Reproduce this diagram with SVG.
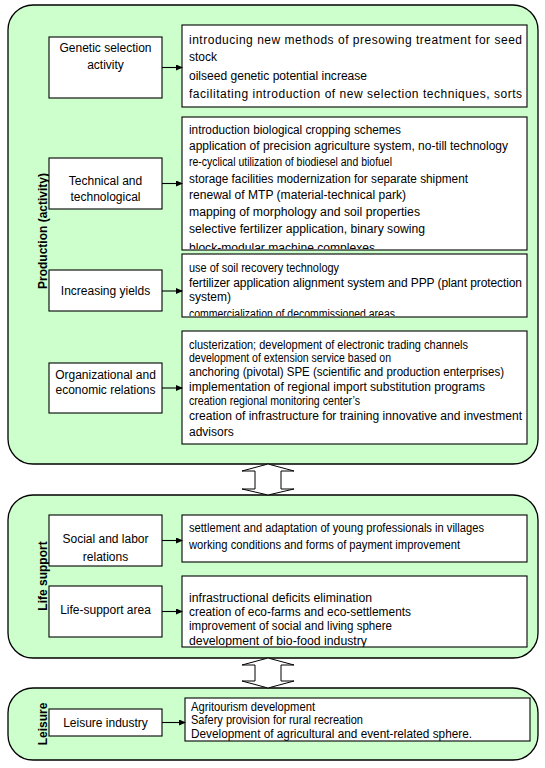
<svg xmlns="http://www.w3.org/2000/svg" width="545" height="768" viewBox="0 0 545 768">
<style>
.panel{fill:#ccffcc;stroke:#000;stroke-width:1.3}
.box{fill:#fff;stroke:#000;stroke-width:1.1}
.lbl{font-family:"Liberation Sans",Arial,sans-serif;font-size:12px;fill:#000;text-anchor:middle}
.t{font-family:"Liberation Sans",Arial,sans-serif;font-size:12px;fill:#000}
.side{font-family:"Liberation Sans",Arial,sans-serif;font-size:12px;font-weight:bold;fill:#000;text-anchor:middle}
.con{stroke:#000;stroke-width:1.1;fill:none}
.dbl{fill:#fff;stroke:#000;stroke-width:1}
</style>
<defs>
<marker id="ah" markerWidth="7" markerHeight="6" refX="6" refY="3" orient="auto" markerUnits="userSpaceOnUse">
<path d="M0,0 L7,3 L0,6 Z" fill="#000"/>
</marker>
<clipPath id="c2"><rect x="182" y="117" width="345" height="132"/></clipPath>
<clipPath id="c3"><rect x="182" y="254" width="345" height="62"/></clipPath>
<clipPath id="c6"><rect x="182" y="576" width="345" height="71"/></clipPath>
<clipPath id="c7"><rect x="185" y="698" width="345" height="43"/></clipPath>
</defs>

<g id="panel-production">
<rect class="panel" x="8" y="5" width="530" height="459" rx="25" ry="25"/>
<text class="side" transform="translate(46.5,231) rotate(-90)">Production (activity)</text>
</g>
<g id="panel-life">
<rect class="panel" x="8" y="495" width="530" height="163" rx="25" ry="25"/>
<text class="side" transform="translate(46.5,576) rotate(-90)">Life support</text>
</g>
<g id="panel-leisure">
<rect class="panel" x="8" y="688" width="530" height="72" rx="25" ry="25"/>
<text class="side" transform="translate(46.5,724) rotate(-90)">Leisure</text>
</g>

<g id="n-genetic">
<rect class="box" x="49" y="37" width="113" height="61"/>
<text class="lbl" x="105.5" y="52">Genetic selection</text>
<text class="lbl" x="105.5" y="69">activity</text>
</g>
<g id="d-genetic">
<rect class="box" x="182" y="25" width="345" height="82"/>
<text class="t" x="189" y="44" textLength="333" lengthAdjust="spacing">introducing new methods of presowing treatment for seed</text>
<text class="t" x="189" y="61">stock</text>
<text class="t" x="189" y="80" textLength="178" lengthAdjust="spacingAndGlyphs">oilseed genetic potential  increase</text>
<text class="t" x="189" y="98" textLength="333" lengthAdjust="spacing">facilitating  introduction of new selection techniques, sorts</text>
</g>

<g id="n-technical">
<rect class="box" x="49" y="158" width="113" height="51"/>
<text class="lbl" x="105.5" y="185">Technical and</text>
<text class="lbl" x="105.5" y="201">technological</text>
</g>
<g id="d-technical">
<rect class="box" x="182" y="117" width="345" height="133"/>
<g clip-path="url(#c2)">
<text class="t" x="189" y="134" textLength="212" lengthAdjust="spacingAndGlyphs">introduction biological cropping schemes</text>
<text class="t" x="189" y="150" textLength="319" lengthAdjust="spacingAndGlyphs">application of precision agriculture system, no-till technology</text>
<text class="t" x="189" y="166" textLength="203" lengthAdjust="spacingAndGlyphs">re-cyclical utilization of biodiesel and biofuel</text>
<text class="t" x="189" y="183" textLength="279" lengthAdjust="spacingAndGlyphs">storage facilities modernization for separate shipment</text>
<text class="t" x="189" y="199" textLength="217" lengthAdjust="spacingAndGlyphs">renewal of MTP  (material-technical park)</text>
<text class="t" x="189" y="216" textLength="231" lengthAdjust="spacingAndGlyphs">mapping of morphology and  soil properties</text>
<text class="t" x="189" y="233" textLength="236" lengthAdjust="spacingAndGlyphs">selective fertilizer application, binary sowing</text>
<text class="t" x="189" y="252" textLength="186" lengthAdjust="spacingAndGlyphs">block-modular machine complexes</text>
</g>
</g>

<g id="n-yields">
<rect class="box" x="49" y="270" width="113" height="41"/>
<text class="lbl" x="105.5" y="295">Increasing yields</text>
</g>
<g id="d-yields">
<rect class="box" x="182" y="254" width="345" height="63"/>
<g clip-path="url(#c3)">
<text class="t" x="189" y="272" textLength="150" lengthAdjust="spacingAndGlyphs">use of soil recovery technology</text>
<text class="t" x="189" y="287" textLength="333" lengthAdjust="spacing">fertilizer application alignment system  and  PPP  (plant protection</text>
<text class="t" x="189" y="301">system)</text>
<text class="t" x="189" y="318" textLength="206" lengthAdjust="spacingAndGlyphs">commercialization of decommissioned areas</text>
</g>
</g>

<g id="n-org">
<rect class="box" x="49" y="363" width="113" height="50"/>
<text class="lbl" x="105.5" y="379">Organizational and</text>
<text class="lbl" x="105.5" y="394">economic relations</text>
</g>
<g id="d-org">
<rect class="box" x="182" y="331" width="345" height="113"/>
<text class="t" x="189" y="349" textLength="279" lengthAdjust="spacingAndGlyphs">clusterization; development of electronic trading channels</text>
<text class="t" x="189" y="362" textLength="202" lengthAdjust="spacingAndGlyphs">development of extension service based on</text>
<text class="t" x="189" y="376" textLength="315" lengthAdjust="spacingAndGlyphs">anchoring (pivotal) SPE (scientific and production enterprises)</text>
<text class="t" x="189" y="391" textLength="296" lengthAdjust="spacingAndGlyphs">implementation of regional import substitution programs</text>
<text class="t" x="189" y="405" textLength="171" lengthAdjust="spacingAndGlyphs">creation regional monitoring center’s</text>
<text class="t" x="189" y="420" textLength="333" lengthAdjust="spacingAndGlyphs">creation of infrastructure for training innovative and investment</text>
<text class="t" x="189" y="436">advisors</text>
</g>

<g id="n-social">
<rect class="box" x="49" y="515" width="113" height="51"/>
<text class="lbl" x="105.5" y="543">Social and labor</text>
<text class="lbl" x="105.5" y="561">relations</text>
</g>
<g id="d-social">
<rect class="box" x="182" y="515" width="345" height="47"/>
<text class="t" x="189" y="532" textLength="295" lengthAdjust="spacingAndGlyphs">settlement and adaptation of young  professionals in villages</text>
<text class="t" x="189" y="549" textLength="271" lengthAdjust="spacingAndGlyphs">working conditions and forms of payment improvement</text>
</g>

<g id="n-lifearea">
<rect class="box" x="49" y="586" width="113" height="51"/>
<text class="lbl" x="105.5" y="614">Life-support area</text>
</g>
<g id="d-lifearea">
<rect class="box" x="182" y="576" width="345" height="71"/>
<g clip-path="url(#c6)">
<text class="t" x="189" y="602" textLength="183" lengthAdjust="spacingAndGlyphs">infrastructional deficits elimination</text>
<text class="t" x="189" y="616" textLength="222" lengthAdjust="spacingAndGlyphs">creation of eco-farms and  eco-settlements</text>
<text class="t" x="189" y="630" textLength="203" lengthAdjust="spacingAndGlyphs">improvement of social and living sphere</text>
<text class="t" x="189" y="645" textLength="178" lengthAdjust="spacingAndGlyphs">development of bio-food industry</text>
</g>
</g>

<g id="n-leisure">
<rect class="box" x="49" y="709" width="113" height="27"/>
<text class="lbl" x="105.5" y="727">Leisure industry</text>
</g>
<g id="d-leisure">
<rect class="box" x="185" y="698" width="345" height="43"/>
<g clip-path="url(#c7)">
<text class="t" x="191" y="711" textLength="124" lengthAdjust="spacingAndGlyphs">Agritourism development</text>
<text class="t" x="191" y="724" textLength="172" lengthAdjust="spacingAndGlyphs">Safery provision for rural recreation</text>
<text class="t" x="191" y="738" textLength="281" lengthAdjust="spacingAndGlyphs">Development of agricultural and event-related sphere.</text>
</g>
</g>

<g id="connectors">
<line class="con" x1="162" y1="67.5" x2="182" y2="67.5" marker-end="url(#ah)"/>
<line class="con" x1="162" y1="183.5" x2="182" y2="183.5" marker-end="url(#ah)"/>
<line class="con" x1="162" y1="291" x2="182" y2="291" marker-end="url(#ah)"/>
<line class="con" x1="162" y1="388" x2="182" y2="388" marker-end="url(#ah)"/>
<line class="con" x1="162" y1="540.5" x2="182" y2="540.5" marker-end="url(#ah)"/>
<line class="con" x1="162" y1="611.5" x2="182" y2="611.5" marker-end="url(#ah)"/>
<line class="con" x1="162" y1="722.5" x2="185" y2="722.5" marker-end="url(#ah)"/>
<polygon class="dbl" points="268,464 294,471 281,471 281,489 294,489 268,495 242,489 255,489 255,471 242,471"/>
<polygon class="dbl" points="268,658 294,665 281,665 281,681 294,681 268,688 242,681 255,681 255,665 242,665"/>
</g>
</svg>
